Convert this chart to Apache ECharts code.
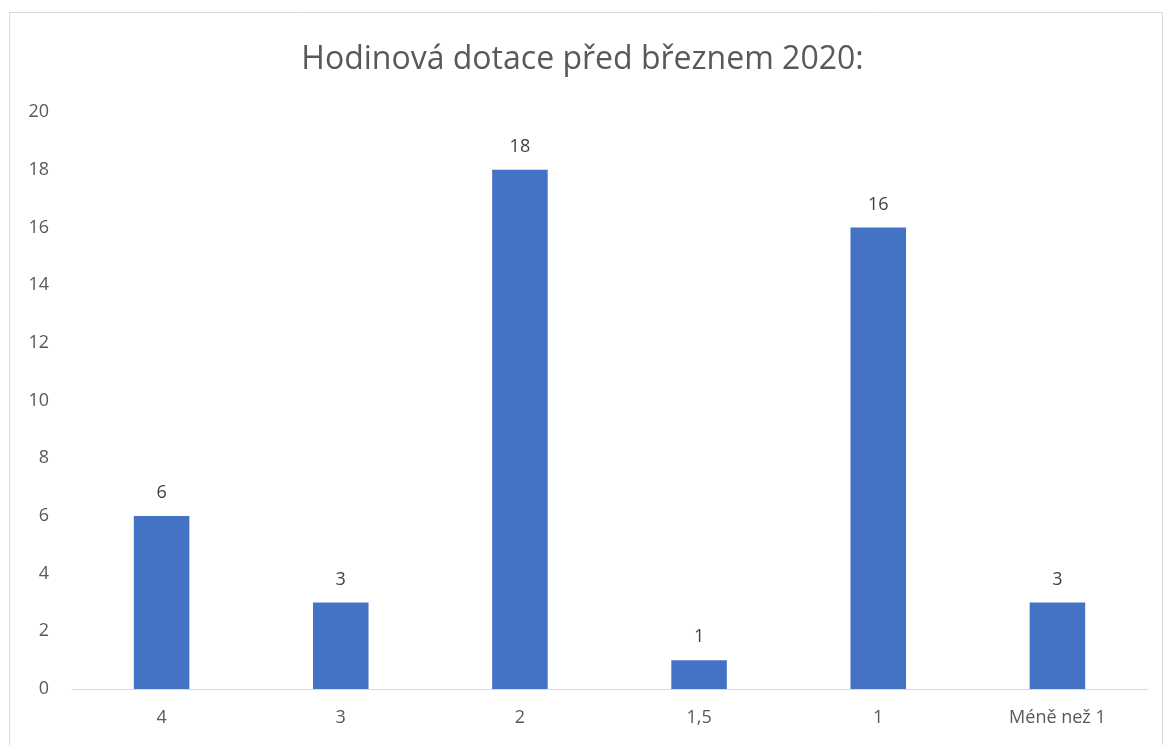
<!DOCTYPE html>
<html>
<head>
<meta charset="utf-8">
<script src="https://cdn.jsdelivr.net/npm/echarts@6/dist/echarts.min.js"></script>
<style>
  html, body { margin: 0; padding: 0; background: #fff; }
  #chart { width: 1165px; height: 745px; }
</style>
</head>
<body>
<div id="chart"></div>
<script>
  const categories = ['4', '3', '2', '1,5', '1', 'Méně než 1'];
  const values = [6, 3, 18, 1, 16, 3];
  const yTicks = { min: 0, max: 20, interval: 2 };

  const font = '"Open Sans", "Noto Sans", sans-serif';

  const myChart = echarts.init(document.getElementById('chart'));
  myChart.setOption({
    animation: false,
    backgroundColor: '#fff',
    textStyle: { fontFamily: font },
    title: {
      text: 'Hodinová dotace před březnem 2020:',
      left: 'center',
      top: 39,
      padding: [5, 0, 5, 18],
      textStyle: {
        fontFamily: font,
        fontSize: 32,
        fontWeight: 'normal',
        color: '#595959',
      },
    },
    graphic: [
      {
        type: 'rect',
        shape: { x: 9.5, y: 12.5, width: 1153, height: 800 },
        style: { fill: 'none', stroke: '#d9d9d9', lineWidth: 1 },
        silent: true,
      },
    ],
    grid: {
      left: 72,
      right: 18,
      top: 112,
      bottom: 56,
    },
    xAxis: {
      type: 'category',
      data: categories,
      axisLine: { lineStyle: { color: '#d9d9d9', width: 1 } },
      axisTick: { show: false },
      axisLabel: {
        color: '#595959',
        fontSize: 18,
        margin: 20,
      },
    },
    yAxis: {
      type: 'value',
      min: yTicks.min,
      max: yTicks.max,
      interval: yTicks.interval,
      axisLine: { show: false },
      axisTick: { show: false },
      splitLine: { show: false },
      axisLabel: {
        color: '#595959',
        fontSize: 18,
        margin: 23,
      },
    },
    series: [
      {
        type: 'bar',
        data: values,
        barWidth: '31%',
        itemStyle: { color: '#4472c4' },
        label: {
          show: true,
          position: 'top',
          distance: 14,
          color: '#404040',
          fontSize: 18,
        },
      },
    ],
  });
</script>
</body>
</html>
